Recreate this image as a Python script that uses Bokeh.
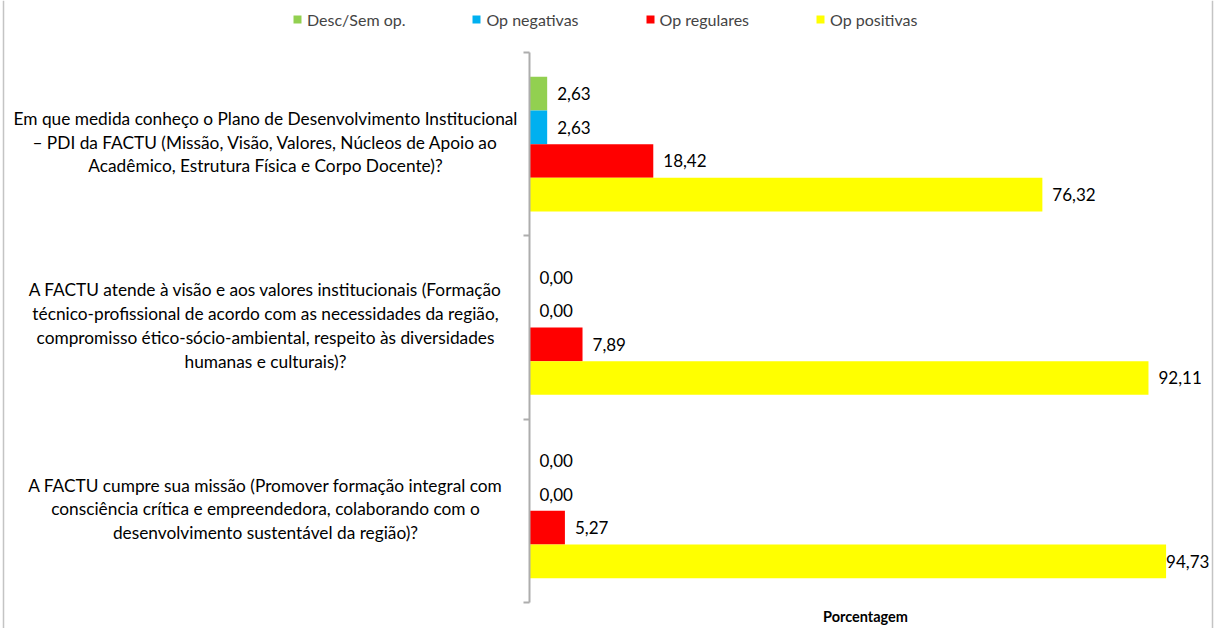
from bokeh.plotting import figure
from bokeh.models import (ColumnDataSource, Range1d, LinearAxis, FixedTicker,
                          LabelSet, Label, Legend, LegendItem, Span)
from bokeh.core.properties import value
from bokeh.embed import file_html
from bokeh.resources import INLINE

# ---------------- data ----------------
categories = [
    "Em que medida conheço o Plano de Desenvolvimento Institucional\n"
    "– PDI da FACTU (Missão, Visão, Valores, Núcleos de Apoio ao\n"
    "Acadêmico, Estrutura Física e Corpo Docente)?",
    "A FACTU atende à visão e aos valores institucionais (Formação\n"
    "técnico-profissional de acordo com as necessidades da região,\n"
    "compromisso ético-sócio-ambiental, respeito às diversidades\n"
    "humanas e culturais)?",
    "A FACTU cumpre sua missão (Promover formação integral com\n"
    "consciência crítica e empreendedora, colaborando com o\n"
    "desenvolvimento sustentável da região)?",
]
series_names = ["Desc/Sem op.", "Op negativas", "Op regulares", "Op positivas"]
desc_sem_op = [2.63, 0.00, 0.00]
op_negativas = [2.63, 0.00, 0.00]
op_regulares = [18.42, 7.89, 5.27]
op_positivas = [76.32, 92.11, 94.73]
series_values = [desc_sem_op, op_negativas, op_regulares, op_positivas]
colors = ["#92D050", "#00B0F0", "#FF0000", "#FFFF00"]
x_axis_title = "Porcentagem"
x_max = 100

# ---------------- layout geometry (pixels) ----------------
FONT = "Lato"
W, H = 1216, 628
plot_left, plot_right = 529, 1201      # where 0 and x_max fall
plot_top, plot_bottom = 52, 602        # category band edges
n_cat = len(categories)
bar_h = 0.1836

ppx = (plot_right - plot_left) / x_max
ppy = (plot_bottom - plot_top) / n_cat
x_rng = Range1d(-plot_left / ppx, (W - plot_left) / ppx)
y_rng = Range1d(-(H - plot_bottom) / ppy, n_cat + plot_top / ppy)

p = figure(width=W, height=H, x_range=x_rng, y_range=y_rng,
           output_backend="svg", toolbar_location=None,
           x_axis_location=None, y_axis_location=None,
           min_border=0)
p.outline_line_color = None
p.xgrid.grid_line_color = None
p.ygrid.grid_line_color = None

# chart-area frame (left/right edges)
for loc in (3, W - 4):
    p.add_layout(Span(location=loc, location_units="screen",
                      dimension="height", line_color="#C4C4C4",
                      line_width=1.5))

# y axis at x = 0 with ticks at the category boundaries
ticks = list(range(n_cat + 1))
ya = LinearAxis(ticker=FixedTicker(ticks=ticks), fixed_location=0,
                bounds=(0, n_cat))
ya.major_label_overrides = {t: "" for t in ticks}
ya.major_label_text_color = None
ya.axis_line_color = "#ADADAD"
ya.axis_line_width = 2
ya.major_tick_line_color = "#ADADAD"
ya.major_tick_line_width = 2
ya.major_tick_in = 0
ya.major_tick_out = 6
ya.minor_tick_line_color = None
p.add_layout(ya, "left")

legend_items = []
for j, (name, vals, col) in enumerate(zip(series_names, series_values, colors)):
    ys = [n_cat - 0.5 - i + (1.5 - j) * bar_h for i in range(n_cat)]
    labels = [("%.2f" % v).replace(".", ",") for v in vals]
    offs = [10 if v < 93 else 0 for v in vals]
    src = ColumnDataSource(dict(y=ys, right=vals, label=labels, off=offs))
    r = p.hbar(y="y", left=0, right="right", height=bar_h, source=src,
               fill_color=col, line_color=None)
    legend_items.append(LegendItem(label=name, renderers=[r]))
    ls = LabelSet(x="right", y="y", text="label", source=src, x_offset="off",
                  text_align="left", text_baseline="middle",
                  text_font=value(FONT), text_font_size="17px",
                  text_color="black")
    p.add_layout(ls)

# category labels to the left of the axis
cat_src = ColumnDataSource(dict(x=[0] * n_cat,
                                y=[n_cat - 0.5 - i for i in range(n_cat)],
                                text=categories))
p.text(x="x", y="y", text="text", source=cat_src, x_offset=-264, y_offset=-2,
       text_align="center", text_baseline="middle",
       text_font=value(FONT), text_font_size="17.3px",
       text_line_height=1.13, text_color="black")

# x axis title
p.add_layout(Label(x=x_max / 2, y=H - 616, y_units="screen", text=x_axis_title,
                   text_align="center", text_baseline="middle",
                   text_font=FONT, text_font_style="bold",
                   text_font_size="14.5px", text_color="black"))

legend = Legend(items=legend_items, orientation="horizontal",
                location=(292, H - 29), glyph_width=10, glyph_height=10,
                label_standoff=5, spacing=66, padding=0, margin=0,
                border_line_color=None, background_fill_alpha=0,
                label_text_font=FONT, label_text_font_size="16px",
                label_height=20)
p.add_layout(legend, "center")

open("out.html", "w").write(file_html(p, INLINE))
